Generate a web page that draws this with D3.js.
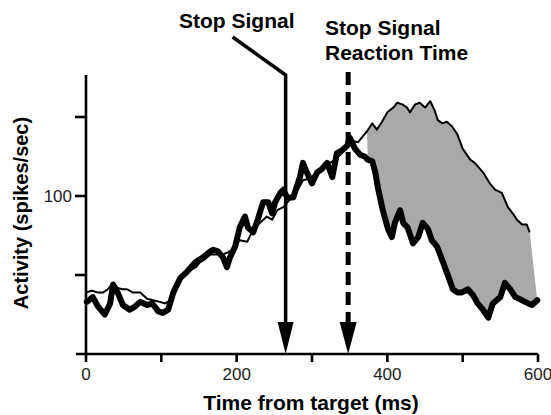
<!DOCTYPE html>
<html><head><meta charset="utf-8">
<script src="https://cdn.jsdelivr.net/npm/d3@7"></script>
<style>body{margin:0;background:#fff}svg{display:block}</style>
</head><body><svg id="c" width="551" height="415"></svg>
<script>
// canceled stop-signal trials (thick line)
const canceledTime = [1,9,16,25,32,36,42,49,58,65,72,81,88,96,102,109,116,125,134,145,155,165,169,175,182,187,191,198,204,211,215,222,228,235,242,247,251,258,262,267,275,284,288,293,300,307,313,320,327,333,340,347,350,357,364,370,374,380,384,388,394,401,406,410,417,421,427,434,441,447,454,459,466,474,481,487,493,499,507,514,520,527,534,540,550,556,563,570,579,587,592,599];
const canceledRate = [33,36,30,25,32,44,39,31,28,30,33,31,32,27,26,28,39,48,52,58,61,65,66,65,61,55,61,68,80,87,80,77,85,96,96,89,96,102,104,99,99,112,121,115,108,115,117,121,112,127,129,132,137,130,126,125,123,122,115,104,91,79,74,83,91,83,80,70,74,83,79,72,68,58,49,41,39,39,41,37,32,28,23,32,36,45,41,36,34,32,31,34];
// no-stop-signal trials (thin line)
const noStopTime = [0,8,15,23,29,36,41,48,54,62,72,81,89,98,105,112,118,125,131,138,146,151,158,165,174,181,187,195,204,214,222,231,240,247,254,262,271,280,288,297,307,315,324,331,337,347,353,361,366,373,380,386,393,400,408,413,420,426,430,437,443,450,457,463,467,473,479,486,493,500,510,516,527,536,543,552,560,568,572,579,585,589];
const noStopRate = [39,40,39,39,41,45,42,41,41,39,39,35,34,33,32,34,39,47,51,53,55,58,60,63,63,63,64,66,72,71,79,83,87,85,91,93,98,103,110,111,115,118,121,123,126,131,135,134,137,141,146,142,147,153,156,159,158,156,153,158,159,156,160,154,148,146,147,144,139,130,123,121,115,108,104,102,93,88,85,82,82,77];
const xTicks = [0,100,200,300,400,500,600];
const xTickLabels = ["0","","200","","400","","600"];
const yTicks = [50,100,150];
const yTickLabels = ["","100",""];
const stopSignalTime = 265;
const ssrtTime = 348;
const divergeTime = 373;

const svg = d3.select("#c");
svg.append("rect").attr("width",551).attr("height",415).attr("fill","#fff");
const x = d3.scaleLinear().domain([0,600]).range([86,538]);
const y = d3.scaleLinear().domain([0,176.6]).range([354,75]);
const font = "'Liberation Sans', Arial, Helvetica, sans-serif";

const canceled = canceledTime.map((t,i)=>[t,canceledRate[i]]);
const noStop = noStopTime.map((t,i)=>[t,noStopRate[i]]);
const line = d3.line().x(d=>x(d[0])).y(d=>y(d[1]));

// shaded difference
const fillPts = noStop.filter(d=>d[0]>=divergeTime)
  .concat(canceled.filter(d=>d[0]>=divergeTime).reverse());
svg.append("path").attr("d", line(fillPts)+"Z").attr("fill","#a9a9a9").attr("stroke","none");

svg.append("path").attr("d", line(noStop)).attr("fill","none").attr("stroke","#000")
  .attr("stroke-width",2).attr("stroke-linejoin","round");
svg.append("path").attr("d", line(canceled)).attr("fill","none").attr("stroke","#000")
  .attr("stroke-width",6).attr("stroke-linejoin","round").attr("stroke-linecap","round");

// axes
const ax = svg.append("g").attr("stroke","#000").attr("stroke-width",2.6);
ax.append("line").attr("x1",76).attr("x2",x(600)).attr("y1",y(0)).attr("y2",y(0));
ax.append("line").attr("x1",x(0)).attr("x2",x(0)).attr("y1",y(0)+1).attr("y2",75);
xTicks.forEach(t=>ax.append("line").attr("x1",x(t)).attr("x2",x(t)).attr("y1",y(0)).attr("y2",y(0)+8));
yTicks.forEach(v=>ax.append("line").attr("x1",x(0)).attr("x2",x(0)-11).attr("y1",y(v)).attr("y2",y(v)));

xTicks.forEach((t,i)=>{ if(!xTickLabels[i]) return;
  svg.append("text").attr("x",x(t)).attr("y",380).attr("text-anchor","middle")
    .attr("font-family",font).attr("font-size",17).attr("fill","#222").text(xTickLabels[i]);});
yTicks.forEach((v,i)=>{ if(!yTickLabels[i]) return;
  svg.append("text").attr("x",72).attr("y",y(v)+6).attr("text-anchor","end")
    .attr("font-family",font).attr("font-size",17).attr("fill","#222").text(yTickLabels[i]);});

svg.append("text").attr("x",311).attr("y",410).attr("text-anchor","middle")
  .attr("font-family",font).attr("font-weight","bold").attr("font-size",21).text("Time from target (ms)");
svg.append("text").attr("transform","translate(28,213) rotate(-90)").attr("text-anchor","middle")
  .attr("font-family",font).attr("font-weight","bold").attr("font-size",20).text("Activity (spikes/sec)");

// Stop signal arrow
const sx = x(stopSignalTime);
svg.append("path").attr("d",`M${sx-53},37 L${sx},75 L${sx},323`).attr("fill","none")
  .attr("stroke","#000").attr("stroke-width",3.5);
svg.append("path").attr("d",`M${sx-8},322 L${sx+8},322 L${sx},${y(0)} Z`).attr("fill","#000");
svg.append("text").attr("x",179).attr("y",28).attr("font-family",font).attr("font-weight","bold")
  .attr("font-size",21).text("Stop Signal");

// SSRT arrow
const rx = x(ssrtTime);
svg.append("line").attr("x1",rx).attr("x2",rx).attr("y1",72).attr("y2",322)
  .attr("stroke","#000").attr("stroke-width",5).attr("stroke-dasharray","13,7");
svg.append("path").attr("d",`M${rx-8.5},322 L${rx+8.5},322 L${rx},${y(0)} Z`).attr("fill","#000");
svg.append("text").attr("x",325).attr("y",35).attr("font-family",font).attr("font-weight","bold")
  .attr("font-size",21).text("Stop Signal");
svg.append("text").attr("x",325).attr("y",60).attr("font-family",font).attr("font-weight","bold")
  .attr("font-size",21).text("Reaction Time");
</script></body></html>
